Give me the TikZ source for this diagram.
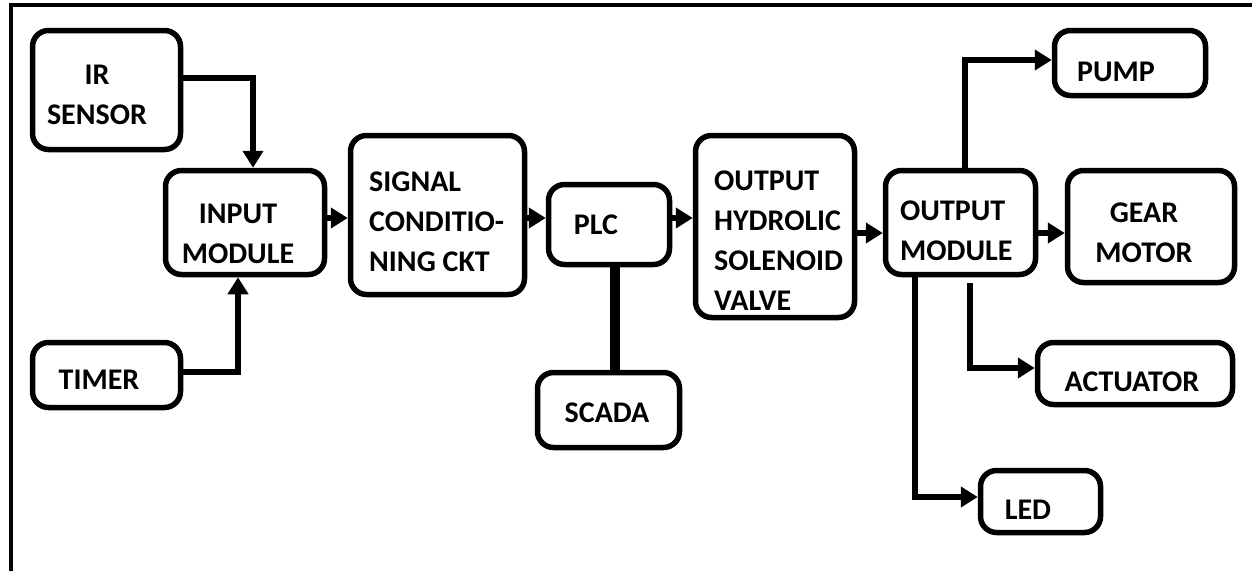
\documentclass[tikz,border=0pt]{standalone}
\usepackage{fontspec}
\setmainfont{Carlito}
\usetikzlibrary{arrows.meta}
\begin{document}
\begin{tikzpicture}[x=1pt,y=-1pt,
  box/.style={draw, line width=5.5pt, rounded corners=16pt, inner sep=0pt},
  txt/.style={font=\fontsize{30}{40}\selectfont\bfseries, inner sep=0pt, text=black},
  arr/.style={line width=6pt, -{Triangle[length=17pt,width=20pt]}},
  link/.style={line width=10pt}]
\useasboundingbox (0,0) rectangle (1252,571);
\fill[white] (0,0) rectangle (1252,571);
% frame
\draw[line width=3.5pt] (1252,5) -- (11,5) -- (11,571);
% boxes
\node[box, minimum width=148pt, minimum height=119pt] (ir) at (106.5,90) {};
\node[box, minimum width=159pt, minimum height=104pt] (in) at (245,222.5) {};
\node[box, minimum width=148pt, minimum height=65pt] (timer) at (106.5,375) {};
\node[box, minimum width=174pt, minimum height=159pt] (sig) at (437.5,215) {};
\node[box, minimum width=121pt, minimum height=80pt] (plc) at (609,224.5) {};
\node[box, minimum width=142pt, minimum height=75pt] (scada) at (608.5,410) {};
\node[box, minimum width=159pt, minimum height=182pt] (valve) at (775,226.5) {};
\node[box, minimum width=150pt, minimum height=104pt] (om) at (960.5,222.5) {};
\node[box, minimum width=167pt, minimum height=112pt] (gear) at (1151,226.5) {};
\node[box, minimum width=151pt, minimum height=65pt] (pump) at (1130,63) {};
\node[box, minimum width=195pt, minimum height=62pt] (act) at (1135,373.5) {};
\node[box, minimum width=120pt, minimum height=62pt] (led) at (1040.5,501.5) {};
% texts
\node[txt, align=center] (irT) at (97,95) {IR\\SENSOR};
\node[txt, align=center] (inT) at (238,234) {INPUT\\MODULE};
\node[txt] (timerT) at (99,380) {TIMER};
\node[txt, align=left, anchor=west] (sigT) at (369,222) {SIGNAL\\CONDITIO-\\NING CKT};
\node[txt] (plcT) at (596,225) {PLC};
\node[txt] (scadaT) at (607,413) {SCADA};
\node[txt, align=left, anchor=west] (valveT) at (714,241) {OUTPUT\\HYDROLIC\\SOLENOID\\VALVE};
\node[txt, align=left, anchor=west] (omT) at (900,231) {OUTPUT\\MODULE};
\node[txt, align=center] (gearT) at (1144,233) {GEAR\\MOTOR};
\node[txt] (pumpT) at (1116,72) {PUMP};
\node[txt] (actT) at (1132,382) {ACTUATOR};
\node[txt] (ledT) at (1028,510) {LED};
% connectors
\draw[arr] ([yshift=12pt]ir.east) -| ([xshift=8pt]in.north);
\draw[arr] ([yshift=3pt]timer.east) -| ([xshift=-7pt]in.south);
\draw[arr] ([yshift=4.5pt]in.east) -- ([yshift=4.5pt]in.east -| sig.west);
\draw[arr] ([yshift=-3pt]sig.east) -- ([yshift=-3pt]sig.east -| plc.west);
\draw[arr] ([yshift=6.5pt]plc.east) -- ([yshift=6.5pt]plc.east -| valve.west);
\draw[arr] ([yshift=-10.5pt]om.west -| valve.east) -- ([yshift=-10.5pt]om.west);
\draw[arr] ([yshift=-10.5pt]om.east) -- ([yshift=-10.5pt]om.east -| gear.west);
\draw[arr] ([xshift=4.5pt]om.north) |- ([yshift=3pt]pump.west);
\draw[arr] ([xshift=9.5pt,yshift=-6pt]om.south) |- ([yshift=5.5pt]act.west);
\draw[arr] ([xshift=-45.5pt]om.south) |- ([yshift=4.5pt]led.west);
\draw[link] ([xshift=6pt]plc.south) -- ([xshift=6pt]plc.south |- scada.north);
\end{tikzpicture}
\end{document}
